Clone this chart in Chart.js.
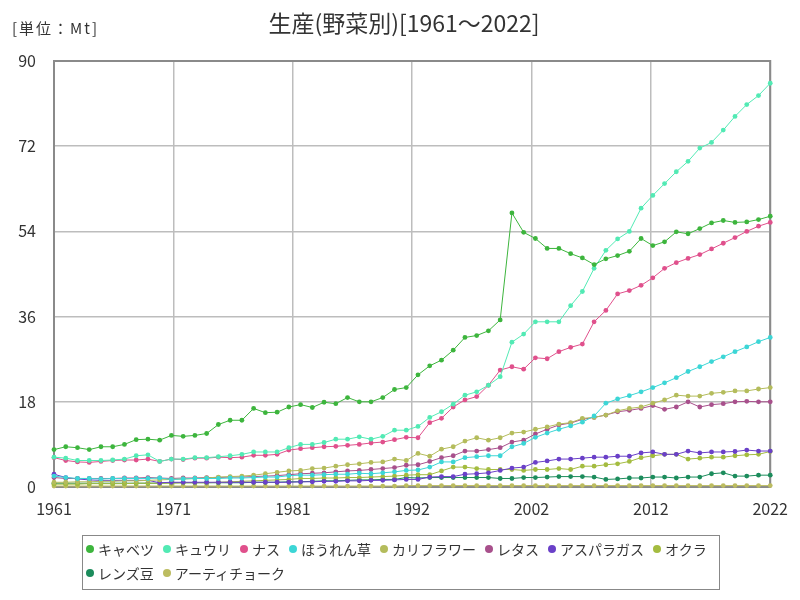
<!DOCTYPE html>
<html><head><meta charset="utf-8">
<script src="https://cdn.jsdelivr.net/npm/chart.js@4"></script>
<style>
html,body{margin:0;padding:0;background:#fff;}
#wrap{position:relative;width:800px;height:600px;}
#title{position:absolute;left:0;top:5px;width:808px;text-align:center;font:23px "Noto Sans CJK JP";color:#333;}
#unit{position:absolute;left:12px;top:17px;font:15px "Noto Sans CJK JP";letter-spacing:2px;color:#333;}
#legend{position:absolute;left:82px;top:535px;width:638px;height:55px;border:1px solid #888;box-sizing:border-box;font:14px "Noto Sans CJK JP";color:#333;}
.row{position:absolute;left:3px;display:flex;align-items:center;white-space:nowrap;height:20px}
.item{display:flex;align-items:center;margin-right:9px}
.dot{width:8px;height:8px;border-radius:50%;margin-right:4px}
</style></head>
<body>
<div id="wrap">
<canvas id="c" width="800" height="600"></canvas>
<div id="title">生産(野菜別)[1961～2022]</div>
<div id="unit">[単位：Mt]</div>
<div id="legend"></div>
</div>
<script>
const years = [];
for (let y = 1961; y <= 2022; y++) years.push(y);

const seriesNames = ["キャベツ","キュウリ","ナス","ほうれん草","カリフラワー","レタス","アスパラガス","オクラ","レンズ豆","アーティチョーク"];
const seriesColors = ["#3db53d","#52eab4","#e0508c","#3cd6d6","#b4bc5c","#a8508c","#6a40c8","#a4bc40","#1c8c5c","#bcbc60"];

const cabbage = [7.9,8.5,8.3,7.9,8.5,8.5,9.0,10.0,10.1,9.9,10.9,10.7,10.9,11.3,13.2,14.1,14.1,16.6,15.7,15.8,16.9,17.4,16.8,17.9,17.6,18.9,18.0,18.0,18.9,20.6,21.0,23.7,25.6,26.8,28.9,31.6,32.0,33.0,35.3,57.9,53.8,52.5,50.4,50.4,49.3,48.4,47.0,48.2,48.9,49.8,52.5,51.0,51.8,53.9,53.5,54.6,55.8,56.3,55.9,56.0,56.5,57.2];
const cucumber = [6.3,6.1,5.6,5.6,5.6,5.7,5.9,6.6,6.8,5.4,5.9,5.9,6.2,6.2,6.4,6.6,6.9,7.4,7.4,7.4,8.3,9.0,9.0,9.4,10.1,10.1,10.6,10.1,10.7,12.0,12.0,12.8,14.7,15.9,17.5,19.4,20.1,21.5,23.3,30.6,32.3,34.9,34.9,34.9,38.3,41.3,46.2,50.0,52.4,54.0,58.9,61.6,64.1,66.6,68.8,71.6,72.8,75.4,78.3,80.8,82.7,85.3];
const eggplant = [6.2,5.6,5.3,5.2,5.4,5.6,5.7,5.7,5.9,5.4,5.9,5.8,6.1,6.1,6.3,6.2,6.3,6.7,6.7,6.9,7.8,8.1,8.3,8.5,8.6,8.8,9.0,9.3,9.5,10.0,10.5,10.4,13.6,14.5,16.9,18.4,19.1,21.5,24.7,25.4,24.9,27.3,27.1,28.6,29.5,30.2,34.9,37.3,40.8,41.5,42.6,44.2,46.2,47.4,48.3,49.1,50.3,51.5,52.7,54.0,55.1,55.9];
const spinach = [2.3,2.0,1.8,1.8,1.7,1.8,1.8,1.8,1.8,1.9,1.6,1.7,1.8,1.8,1.8,1.9,1.9,2.0,2.1,2.1,2.4,2.5,2.5,2.6,2.7,2.7,2.9,2.8,3.0,3.2,3.5,3.6,4.2,5.3,5.3,6.2,6.4,6.6,6.6,8.5,9.2,10.5,11.4,12.2,12.9,13.7,15.0,17.7,18.6,19.3,20.1,21.0,22.0,23.1,24.4,25.4,26.5,27.5,28.6,29.6,30.7,31.6];
const cauliflower = [1.0,1.0,1.1,1.1,1.2,1.2,1.3,1.3,1.4,1.5,1.6,1.7,1.8,1.9,2.1,2.2,2.3,2.5,2.8,3.1,3.4,3.5,3.9,4.0,4.4,4.7,4.9,5.2,5.3,5.9,5.6,7.1,6.5,8.0,8.5,9.7,10.4,9.9,10.4,11.4,11.6,12.2,12.7,13.3,13.6,14.5,14.7,15.2,16.1,16.6,16.9,17.7,18.4,19.4,19.2,19.2,19.8,20.0,20.3,20.3,20.7,21.0];
const lettuce = [2.0,1.8,1.8,1.8,1.8,1.8,1.9,1.9,2.0,1.9,1.8,1.9,1.9,2.0,2.0,2.1,2.1,2.2,2.3,2.4,2.6,2.8,2.9,3.0,3.2,3.4,3.5,3.7,3.9,4.1,4.6,4.7,5.4,6.2,6.6,7.6,7.6,7.9,8.3,9.5,9.9,11.2,12.2,13.1,13.5,14.3,14.7,15.2,15.9,16.2,16.6,17.2,16.4,16.9,18.0,16.9,17.4,17.6,18.0,18.1,18.0,18.0];
const asparagus = [2.7,2.0,1.7,1.5,1.4,1.4,1.4,1.4,1.4,0.9,1.0,1.0,1.0,1.0,1.0,1.0,1.0,1.0,1.0,1.0,1.0,1.1,1.1,1.2,1.2,1.3,1.3,1.4,1.4,1.5,1.6,1.6,2.1,2.2,2.2,2.7,2.8,3.0,3.5,4.0,4.2,5.2,5.5,5.9,5.9,6.1,6.3,6.3,6.5,6.5,7.2,7.4,6.9,6.9,7.6,7.2,7.4,7.4,7.5,7.8,7.6,7.6];
const okra = [0.6,0.6,0.6,0.7,0.7,0.7,0.7,0.8,0.8,0.8,0.8,0.9,0.9,0.9,1.0,1.1,1.2,1.3,1.4,1.5,1.6,1.8,1.8,1.9,1.9,2.0,2.0,2.1,2.2,2.3,2.5,2.6,2.6,3.4,4.2,4.2,3.9,3.7,3.7,3.7,3.5,3.7,3.7,3.9,3.7,4.4,4.4,4.7,4.9,5.4,6.2,6.6,6.9,6.9,5.9,6.1,6.3,6.3,6.6,6.8,6.9,7.5];
const lentils = [0.8,0.8,0.8,0.8,0.8,0.8,0.8,0.8,0.8,0.8,0.9,0.9,0.9,0.9,0.9,0.9,0.9,1.0,1.0,1.0,1.1,1.1,1.2,1.3,1.3,1.4,1.5,1.5,1.6,1.6,2.0,1.9,2.0,2.0,2.0,2.0,2.0,2.0,1.8,1.8,2.0,2.0,2.1,2.2,2.2,2.2,2.1,1.6,1.7,1.9,1.9,2.1,2.1,1.9,2.1,2.1,2.8,3.0,2.3,2.3,2.5,2.5];
const artichoke = [0.2,0.2,0.2,0.2,0.2,0.2,0.2,0.2,0.2,0.2,0.2,0.2,0.2,0.2,0.2,0.2,0.2,0.2,0.2,0.2,0.2,0.2,0.2,0.2,0.2,0.2,0.2,0.2,0.2,0.2,0.3,0.3,0.3,0.3,0.3,0.3,0.3,0.3,0.3,0.3,0.3,0.3,0.3,0.3,0.3,0.3,0.3,0.3,0.3,0.3,0.3,0.3,0.3,0.3,0.3,0.3,0.3,0.3,0.3,0.3,0.3,0.3];

const yTicks = [0,18,36,54,72,90];
const xTickCount = 6;

const allSeries = [cabbage,cucumber,eggplant,spinach,cauliflower,lettuce,asparagus,okra,lentils,artichoke];

Chart.defaults.font.family = '"Noto Sans CJK JP","Noto Sans",sans-serif';

const datasets = allSeries.map((vals, i) => ({
  label: seriesNames[i],
  data: years.map((y, j) => ({x: y, y: vals[j]})),
  borderColor: seriesColors[i],
  backgroundColor: seriesColors[i],
  pointBackgroundColor: seriesColors[i],
  pointBorderWidth: 0,
  pointRadius: 2.4,
  borderWidth: 1,
  tension: 0,
  clip: 5
}));

const frame = {
  id: 'frame',
  beforeDatasetsDraw(chart) {
    const a = chart.chartArea, ctx = chart.ctx;
    ctx.save();
    ctx.strokeStyle = '#8a8a8a';
    ctx.lineWidth = 2;
    ctx.strokeRect(a.left, a.top, a.right - a.left, a.bottom - a.top);
    ctx.restore();
  }
};

new Chart(document.getElementById('c'), {
  type: 'line',
  data: { datasets },
  plugins: [frame],
  options: {
    responsive: false,
    animation: false,
    layout: { padding: { top: 61, right: 28, bottom: 73, left: 0 } },
    plugins: { legend: { display: false }, title: { display: false }, tooltip: { enabled: false } },
    scales: {
      x: {
        type: 'linear', min: years[0], max: years[years.length - 1],
        afterBuildTicks(s) {
          const t = [];
          for (let k = 0; k <= xTickCount; k++) t.push({ value: years[0] + k * (years[years.length-1] - years[0]) / xTickCount });
          s.ticks = t;
        },
        afterFit(s) { s.height = 40; },
        ticks: { callback: v => String(Math.round(v)), padding: 12, color: '#333', font: { size: 16 }, maxRotation: 0, autoSkip: false },
        grid: { color: '#bdbdbd', lineWidth: 1.5, drawTicks: false },
        border: { color: '#777', width: 2 }
      },
      y: {
        min: 0, max: 90,
        afterBuildTicks(s) { s.ticks = yTicks.map(v => ({ value: v })); },
        afterFit(s) { s.width = 54; },
        ticks: { padding: 18, color: '#333', font: { size: 16 } },
        grid: { color: '#bdbdbd', lineWidth: 1.5, drawTicks: false },
        border: { color: '#777', width: 2 }
      }
    }
  }
});

const lg = document.getElementById('legend');
const rows = [[0,1,2,3,4,5,6,7],[8,9]];
rows.forEach((r, ri) => {
  const row = document.createElement('div');
  row.className = 'row';
  row.style.top = (3 + ri * 24) + 'px';
  r.forEach(i => {
    const it = document.createElement('span'); it.className = 'item';
    const d = document.createElement('span'); d.className = 'dot'; d.style.background = seriesColors[i];
    const t = document.createElement('span'); t.textContent = seriesNames[i];
    it.appendChild(d); it.appendChild(t); row.appendChild(it);
  });
  lg.appendChild(row);
});
</script>
</body></html>
